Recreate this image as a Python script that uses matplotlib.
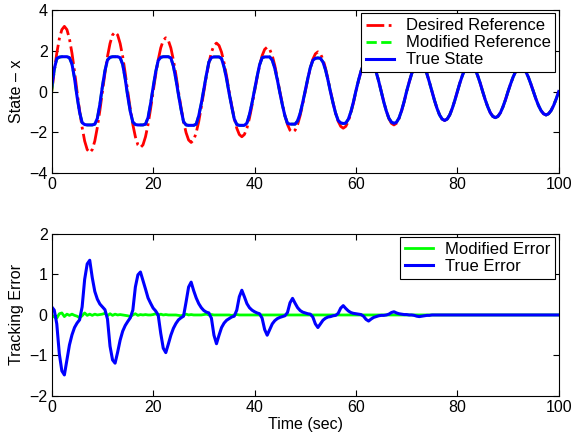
import numpy as np
import matplotlib
matplotlib.use("Agg")
import matplotlib.pyplot as plt

# Sampling grid of the recorded signals (seconds)
time_sec = np.linspace(0, 100, 201)

# Desired reference (one row = 5 s)
desired_reference = [
    0, 0.99, 1.88, 2.59, 3.04, 3.20, 3.04, 2.59, 1.88, 0.99,
    0, -0.93, -1.76, -2.43, -2.85, -3.00, -2.85, -2.43, -1.76, -0.93,
    0, 0.90, 1.72, 2.36, 2.78, 2.92, 2.78, 2.36, 1.72, 0.90,
    0, -0.85, -1.62, -2.22, -2.62, -2.75, -2.62, -2.22, -1.62, -0.85,
    0, 0.82, 1.55, 2.14, 2.51, 2.64, 2.51, 2.14, 1.55, 0.82,
    0, -0.77, -1.47, -2.02, -2.38, -2.50, -2.38, -2.02, -1.47, -0.77,
    0, 0.74, 1.40, 1.93, 2.26, 2.38, 2.26, 1.93, 1.40, 0.74,
    0, -0.69, -1.31, -1.80, -2.11, -2.22, -2.11, -1.80, -1.31, -0.69,
    0, 0.67, 1.28, 1.76, 2.07, 2.18, 2.07, 1.76, 1.28, 0.67,
    0, -0.62, -1.18, -1.62, -1.90, -2.00, -1.90, -1.62, -1.18, -0.62,
    0, 0.60, 1.15, 1.58, 1.85, 1.95, 1.85, 1.58, 1.15, 0.60,
    0, -0.56, -1.06, -1.46, -1.71, -1.80, -1.71, -1.46, -1.06, -0.56,
    0, 0.52, 0.99, 1.36, 1.60, 1.68, 1.60, 1.36, 0.99, 0.52,
    0, -0.51, -0.96, -1.33, -1.56, -1.64, -1.56, -1.33, -0.96, -0.51,
    0, 0.46, 0.88, 1.21, 1.43, 1.50, 1.43, 1.21, 0.88, 0.46,
    0, -0.44, -0.83, -1.15, -1.35, -1.42, -1.35, -1.15, -0.83, -0.44,
    0, 0.42, 0.79, 1.09, 1.28, 1.35, 1.28, 1.09, 0.79, 0.42,
    0, -0.40, -0.75, -1.04, -1.22, -1.28, -1.22, -1.04, -0.75, -0.40,
    0, 0.37, 0.71, 0.98, 1.15, 1.21, 1.15, 0.98, 0.71, 0.37,
    0, -0.36, -0.68, -0.93, -1.09, -1.15, -1.09, -0.93, -0.68, -0.36,
    0,
]

# Modified reference (mostly hidden under the true state)
modified_reference = [
    0.00, 1.04, 1.60, 1.69, 1.71, 1.71, 1.71, 1.66, 1.35, 0.65,
    -0.25, -1.02, -1.53, -1.62, -1.64, -1.64, -1.64, -1.60, -1.32, -0.63,
    0.25, 1.02, 1.55, 1.68, 1.71, 1.71, 1.71, 1.66, 1.33, 0.62,
    -0.24, -0.98, -1.50, -1.62, -1.64, -1.64, -1.64, -1.60, -1.28, -0.60,
    0.20, 0.95, 1.52, 1.68, 1.71, 1.71, 1.71, 1.65, 1.25, 0.60,
    -0.15, -0.86, -1.48, -1.64, -1.66, -1.66, -1.66, -1.60, -1.19, -0.59,
    0.11, 0.81, 1.45, 1.67, 1.70, 1.70, 1.70, 1.62, 1.20, 0.61,
    -0.09, -0.74, -1.34, -1.62, -1.66, -1.66, -1.66, -1.55, -1.13, -0.57,
    0.08, 0.72, 1.31, 1.66, 1.70, 1.70, 1.70, 1.54, 1.14, 0.58,
    -0.06, -0.66, -1.20, -1.56, -1.60, -1.60, -1.60, -1.44, -1.07, -0.55,
    0.05, 0.63, 1.17, 1.53, 1.63, 1.65, 1.63, 1.45, 1.07, 0.55,
    -0.04, -0.58, -1.07, -1.42, -1.54, -1.57, -1.55, -1.36, -1.00, -0.52,
    0.03, 0.54, 1.00, 1.33, 1.49, 1.53, 1.50, 1.30, 0.95, 0.50,
    -0.01, -0.52, -0.96, -1.31, -1.50, -1.56, -1.51, -1.30, -0.94, -0.50,
    0.01, 0.46, 0.88, 1.20, 1.40, 1.46, 1.40, 1.19, 0.87, 0.45,
    0, -0.44, -0.83, -1.15, -1.35, -1.42, -1.35, -1.15, -0.83, -0.44,
    0, 0.42, 0.79, 1.09, 1.28, 1.35, 1.28, 1.09, 0.79, 0.42,
    0, -0.40, -0.75, -1.04, -1.22, -1.28, -1.22, -1.04, -0.75, -0.40,
    0, 0.37, 0.71, 0.98, 1.15, 1.21, 1.15, 0.98, 0.71, 0.37,
    0, -0.36, -0.68, -0.93, -1.09, -1.15, -1.09, -0.93, -0.68, -0.36,
    0,
]

# True state
true_state = [
    0.20, 1.10, 1.62, 1.69, 1.71, 1.71, 1.71, 1.66, 1.35, 0.65,
    -0.25, -1.02, -1.53, -1.62, -1.64, -1.64, -1.64, -1.60, -1.32, -0.63,
    0.25, 1.02, 1.55, 1.68, 1.71, 1.71, 1.71, 1.66, 1.33, 0.62,
    -0.24, -0.98, -1.50, -1.62, -1.64, -1.64, -1.64, -1.60, -1.28, -0.60,
    0.20, 0.95, 1.52, 1.68, 1.71, 1.71, 1.71, 1.65, 1.25, 0.60,
    -0.15, -0.86, -1.48, -1.64, -1.66, -1.66, -1.66, -1.60, -1.19, -0.59,
    0.11, 0.81, 1.45, 1.67, 1.70, 1.70, 1.70, 1.62, 1.20, 0.61,
    -0.09, -0.74, -1.34, -1.62, -1.66, -1.66, -1.66, -1.55, -1.13, -0.57,
    0.08, 0.72, 1.31, 1.66, 1.70, 1.70, 1.70, 1.54, 1.14, 0.58,
    -0.06, -0.66, -1.20, -1.56, -1.60, -1.60, -1.60, -1.44, -1.07, -0.55,
    0.05, 0.63, 1.17, 1.53, 1.63, 1.65, 1.63, 1.45, 1.07, 0.55,
    -0.04, -0.58, -1.07, -1.42, -1.54, -1.57, -1.55, -1.36, -1.00, -0.52,
    0.03, 0.54, 1.00, 1.33, 1.49, 1.53, 1.50, 1.30, 0.95, 0.50,
    -0.01, -0.52, -0.96, -1.31, -1.50, -1.56, -1.51, -1.30, -0.94, -0.50,
    0.01, 0.46, 0.88, 1.20, 1.40, 1.46, 1.40, 1.19, 0.87, 0.45,
    0, -0.44, -0.83, -1.15, -1.35, -1.42, -1.35, -1.15, -0.83, -0.44,
    0, 0.42, 0.79, 1.09, 1.28, 1.35, 1.28, 1.09, 0.79, 0.42,
    0, -0.40, -0.75, -1.04, -1.22, -1.28, -1.22, -1.04, -0.75, -0.40,
    0, 0.37, 0.71, 0.98, 1.15, 1.21, 1.15, 0.98, 0.71, 0.37,
    0, -0.36, -0.68, -0.93, -1.09, -1.15, -1.09, -0.93, -0.68, -0.36,
    0,
]

# Tracking errors (bottom panel)
modified_error = [
    0.00, -0.05, -0.08, 0.03, 0.05, -0.04, 0.02, -0.01, 0.02, -0.01,
    -0.03, -0.07, -0.02, 0.05, -0.01, 0.02, -0.01, 0.02, 0.00, 0.01,
    0.02, 0.04, -0.02, 0.03, -0.01, 0.02, 0.00, 0.01, 0.00, -0.01,
    -0.02, -0.04, 0.00, 0.03, -0.01, 0.01, 0.00, 0.01, 0.00, 0.00,
    0.01, 0.03, -0.01, 0.02, 0.00, 0.01, 0.00, 0.00, 0.00, 0.00,
    -0.01, -0.02, 0.00, 0.02, 0.00, 0.01, 0.00, 0.00, 0.00, 0.00,
    0.01, 0.02, 0.00, 0.01, 0.00, 0.00, 0.00, 0.00, 0.00, 0.00,
    0.00, -0.01, 0.00, 0.01, 0.00, 0.00, 0.00, 0.00, 0.00, 0.00,
    0, 0, 0, 0, 0, 0, 0, 0, 0, 0,
    0, 0, 0, 0, 0, 0, 0, 0, 0, 0,
    0, 0, 0, 0, 0, 0, 0, 0, 0, 0,
    0, 0, 0, 0, 0, 0, 0, 0, 0, 0,
    0, 0, 0, 0, 0, 0, 0, 0, 0, 0,
    0, 0, 0, 0, 0, 0, 0, 0, 0, 0,
    0, 0, 0, 0, 0, 0, 0, 0, 0, 0,
    0, 0, 0, 0, 0, 0, 0, 0, 0, 0,
    0, 0, 0, 0, 0, 0, 0, 0, 0, 0,
    0, 0, 0, 0, 0, 0, 0, 0, 0, 0,
    0, 0, 0, 0, 0, 0, 0, 0, 0, 0,
    0, 0, 0, 0, 0, 0, 0, 0, 0, 0,
    0,
]

true_error = [
    0.20, 0.12, -0.22, -0.96, -1.38, -1.48, -1.11, -0.74, -0.49, -0.31,
    -0.20, -0.12, 0.20, 0.88, 1.26, 1.35, 0.92, 0.58, 0.39, 0.27,
    0.20, 0.13, -0.10, -0.77, -1.11, -1.19, -0.92, -0.62, -0.40, -0.26,
    -0.16, -0.07, 0.12, 0.69, 0.99, 1.06, 0.85, 0.64, 0.42, 0.29,
    0.17, 0.10, 0.00, -0.45, -0.82, -0.93, -0.72, -0.50, -0.33, -0.21,
    -0.12, -0.07, -0.03, 0.32, 0.69, 0.81, 0.60, 0.42, 0.28, 0.18,
    0.11, 0.07, 0.05, -0.08, -0.50, -0.71, -0.50, -0.31, -0.20, -0.13,
    -0.09, -0.05, -0.03, 0.12, 0.45, 0.61, 0.45, 0.28, 0.18, 0.12,
    0.08, 0.05, 0.03, -0.08, -0.36, -0.50, -0.36, -0.22, -0.14, -0.09,
    -0.06, -0.04, -0.02, 0.06, 0.30, 0.41, 0.29, 0.18, 0.11, 0.07,
    0.05, 0.03, 0.02, -0.05, -0.22, -0.31, -0.22, -0.13, -0.08, -0.05,
    -0.04, -0.02, -0.01, 0.04, 0.17, 0.23, 0.16, 0.10, 0.06, 0.04,
    0.03, 0.02, 0.01, -0.03, -0.11, -0.15, -0.10, -0.06, -0.04, -0.02,
    -0.01, -0.01, 0.00, 0.02, 0.06, 0.08, 0.05, 0.03, 0.02, 0.01,
    0.01, 0.00, 0.00, -0.01, -0.03, -0.04, -0.03, -0.02, -0.01, -0.01,
    0, 0, 0, 0, 0, 0, 0, 0, 0, 0,
    0, 0, 0, 0, 0, 0, 0, 0, 0, 0,
    0, 0, 0, 0, 0, 0, 0, 0, 0, 0,
    0, 0, 0, 0, 0, 0, 0, 0, 0, 0,
    0, 0, 0, 0, 0, 0, 0, 0, 0, 0,
    0,
]

x_ticks = [0, 20, 40, 60, 80, 100]
top_y_ticks = [-4, -2, 0, 2, 4]
bottom_y_ticks = [-2, -1, 0, 1, 2]

plt.rcParams['font.family'] = ['Liberation Sans', 'DejaVu Sans']
plt.rcParams['font.size'] = 11

fig = plt.figure(figsize=(5.72, 4.38), dpi=100)
ax1 = fig.add_axes([0.0904, 0.605, 0.8864, 0.372])
ax2 = fig.add_axes([0.0904, 0.0959, 0.8864, 0.370])

ax1.plot(time_sec, desired_reference, color=(1, 0, 0), linestyle='-.', linewidth=2.0,
         label='Desired Reference')
ax1.plot(time_sec, modified_reference, color=(0, 1, 0), linestyle='--', linewidth=2.0,
         label='Modified Reference')
ax1.plot(time_sec, true_state, color=(0, 0, 1), linestyle='-', linewidth=2.2,
         label='True State')
ax1.set_xlim(0, 100)
ax1.set_ylim(-4, 4)
ax1.set_xticks(x_ticks)
ax1.set_yticks(top_y_ticks)
ax1.set_ylabel('State \u2013 x', fontsize=11.5)

ax2.plot(time_sec, modified_error, color=(0, 1, 0), linewidth=2.0, label='Modified Error')
ax2.plot(time_sec, true_error, color=(0, 0, 1), linewidth=2.2, label='True Error')
ax2.set_xlim(0, 100)
ax2.set_ylim(-2, 2)
ax2.set_xticks(x_ticks)
ax2.set_yticks(bottom_y_ticks)
ax2.set_ylabel('Tracking Error', fontsize=11.5)
ax2.set_xlabel('Time (sec)', fontsize=11.5, labelpad=1)

for ax in (ax1, ax2):
    ax.tick_params(direction='in', top=True, right=True, length=4, width=0.8,
                   labelsize=11.5, pad=3)
    for s in ax.spines.values():
        s.set_linewidth(0.8)
    leg = ax.legend(loc='upper right', fontsize=12, fancybox=False, framealpha=1,
                    edgecolor='black', borderaxespad=0.2, handlelength=1.7,
                    labelspacing=0.12, borderpad=0.3, handletextpad=0.7)
    leg.get_frame().set_linewidth(0.8)

fig.savefig('out.png', dpi=100)
